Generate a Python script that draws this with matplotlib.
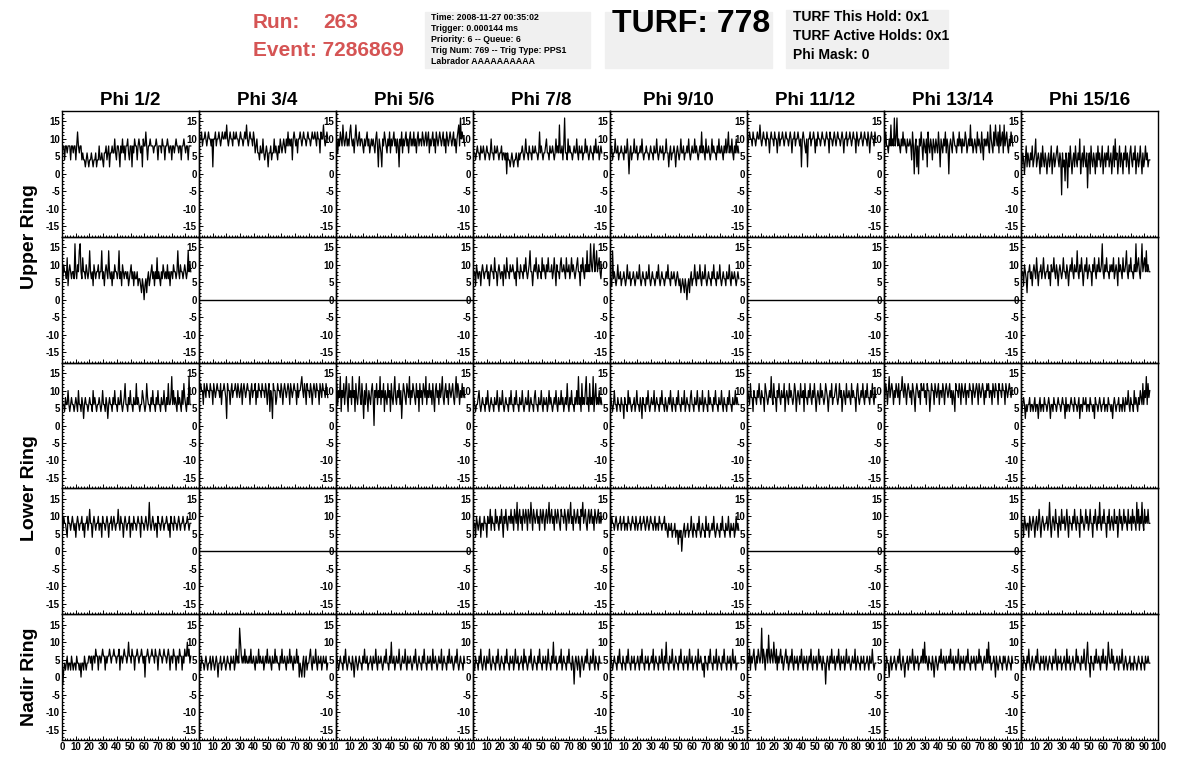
import numpy as np
import matplotlib
matplotlib.use("Agg")
import matplotlib.pyplot as plt
from matplotlib.ticker import MultipleLocator
from matplotlib.transforms import Bbox, TransformedBbox
from matplotlib.patches import Rectangle

plt.rcParams["font.family"] = ["Liberation Sans", "DejaVu Sans"]
plt.rcParams["font.weight"] = "bold"
plt.rcParams["axes.unicode_minus"] = False

# ---- event header ----
run_number = 263
event_number = 7286869
turf_number = 778
info_lines = [
    "Time: 2008-11-27 00:35:02",
    "Trigger: 0.000144 ms",
    "Priority: 6 -- Queue: 6",
    "Trig Num: 769 -- Trig Type: PPS1",
    "Labrador AAAAAAAAAA",
]
turf_lines = ["TURF This Hold: 0x1", "TURF Active Holds: 0x1", "Phi Mask: 0"]

phi_labels = ["Phi 1/2", "Phi 3/4", "Phi 5/6", "Phi 7/8",
              "Phi 9/10", "Phi 11/12", "Phi 13/14", "Phi 15/16"]
ring_labels = ["Upper Ring", "Lower Ring", "Nadir Ring"]

T_END = 94.0  # time of last sample (ns)

# ---- waveforms (mV, read off the display); None = dead channel ----
# upper ring, first antenna row
u1_1 = [6,8,8,4,8,8,6,8,8,8,4,8,8,6,8, 8,4,8,12,8,6,8,8,4,6,4,4,2,4,6,
        4,2,4,4,6,4,2,4,4,6,2,4,4,8,4, 4,6,4,2,6,6,8,4,6,8,2,6,6,8,6,
        6,10,6,4,8,8,6,2,8,6,10,6,8,4,8, 8,10,6,4,8,8,2,8,6,10,8,8,4,8,10,
        8,6,8,2,10,8,8,12,8,4,8,8,10,8,8, 8,6,8,8,10,8,4,8,8,8,6,10,8,8,4,
        8,8,10,8,6,8,8,4,8,8,6,8,10,8,8, 6,8,8,4,8,8,10,8,6,8,8,4,8,8,8]
u1_2 = [8,10,10,12,8,10,10,12,10,8,10,12,10,10,8, 10,2,10,10,12,8,10,10,12,10,8,10,12,10,10,
        12,10,14,10,8,10,12,10,10,8,12,10,10,12,10, 10,8,10,12,10,10,8,10,12,10,14,10,8,10,12,
        10,10,8,12,10,6,8,10,6,6,4,8,6,6,10, 6,4,6,8,6,2,6,6,8,4,6,6,10,6,8,
        6,4,8,6,10,8,6,8,10,8,6,10,8,12,8, 10,8,10,4,10,12,10,8,10,6,10,10,12,10,8,
        10,12,10,10,8,10,12,10,10,8,10,12,10,10,12, 10,8,12,10,10,6,12,10,10,14,10,8,10,12,10]
u1_3 = [8,10,6,10,8,12,10,8,14,10,8,10,12,8,10, 8,12,14,10,8,10,6,10,14,10,8,10,12,8,10,
        10,8,6,10,8,10,12,8,10,6,8,10,8,10,8, 6,10,12,8,2,10,8,6,2,10,8,12,10,8,6,
        10,8,12,6,10,8,10,12,8,10,6,10,8,2,10, 8,12,6,10,8,10,12,8,10,6,10,12,8,10,8,
        12,8,10,6,10,12,8,10,10,8,12,10,8,10,12, 8,10,12,6,10,8,10,12,8,10,6,12,10,8,10,
        12,10,8,10,12,8,10,6,12,10,8,10,12,10,8, 10,12,8,10,6,10,12,14,8,16,10,12,10,10,8]
u1_4 = [8,6,6,4,6,8,6,6,4,8,6,6,8,6,4, 6,8,6,6,4,6,10,6,6,4,8,6,6,8,6,
        4,6,6,8,4,6,6,4,6,0,6,4,4,2,4, 6,4,2,4,4,6,4,2,6,4,6,6,8,6,4,
        6,10,6,6,4,8,6,6,4,8,6,6,8,6,6, 4,6,12,6,8,6,4,6,6,8,10,6,6,4,8,
        6,6,8,6,4,6,10,6,8,6,14,6,6,8,4, 8,16,6,6,4,10,6,8,6,6,4,6,8,6,6,
        10,6,4,8,6,6,8,4,6,6,10,6,8,6,4, 6,8,6,6,4,8,6,10,6,6,8,4,6,8,6]
u1_5 = [6,6,8,4,6,6,10,6,6,8,4,6,6,8,6, 6,4,8,6,6,10,6,0,6,8,4,6,6,10,6,
        6,8,4,6,6,8,6,10,6,4,6,6,8,6,6, 4,6,8,6,6,4,8,6,6,10,6,4,6,8,6,
        6,8,4,6,6,10,6,6,2,6,8,4,6,6,8, 6,2,6,8,6,4,6,10,6,6,8,4,6,6,8,
        6,10,6,4,6,8,6,6,10,6,8,6,4,6,8, 6,12,6,8,6,4,10,6,6,8,6,4,6,10,6,
        8,6,6,4,8,6,10,6,6,8,6,4,8,6,10, 6,8,12,6,8,6,10,6,4,8,6,10,6,8,6]
u1_6 = [10,8,10,12,10,10,8,12,10,10,8,10,12,10,10, 14,10,8,10,12,10,10,8,12,10,10,6,10,12,10,
        10,8,12,10,10,6,10,12,8,10,10,12,10,8,10, 12,10,10,8,10,12,10,6,10,10,12,8,10,10,12,
        10,8,10,2,10,12,10,8,6,10,2,10,10,12,8, 10,10,12,10,6,10,8,12,10,10,8,10,12,10,10,
        8,10,12,10,10,6,12,10,10,8,10,12,10,8,10, 12,10,10,8,10,12,10,6,10,10,12,8,10,10,12,
        10,8,10,12,10,10,6,12,10,8,10,10,12,10,8, 10,12,10,10,8,12,10,6,10,12,10,10,8,12,10]
u1_7 = [10,8,12,8,8,6,10,8,14,8,10,8,16,8,10, 16,8,10,8,6,10,8,12,8,10,8,6,10,8,8,
        10,8,4,12,8,0,8,10,2,8,0,10,8,12,8, 4,10,8,6,10,2,12,8,6,10,8,4,10,8,6,
        10,8,6,12,8,2,10,8,6,10,8,12,6,10,8, 0,8,10,8,6,12,10,8,8,6,10,8,12,8,10,
        6,10,8,8,12,10,6,8,10,8,14,8,10,6,8, 10,8,6,12,8,10,8,6,12,8,4,10,8,10,8,
        12,8,6,14,10,8,6,12,8,14,10,8,12,6,14, 8,10,12,6,14,8,10,12,8,6,10,8,12,10,8]
u1_8 = [4,2,6,4,0,4,8,2,6,4,2,6,4,8,2, 4,6,10,2,4,6,4,0,6,2,8,4,2,6,4,
        0,4,6,2,4,8,0,4,6,2,4,6,8,4,2, 6,4,-6,6,2,4,-2,6,4,-4,6,2,8,4,0,
        4,6,2,8,4,2,6,4,10,0,4,6,2,8,4, 2,6,-4,4,6,0,8,4,2,6,4,0,6,2,8,
        4,6,2,4,8,0,4,6,2,6,4,8,2,4,6, 0,4,8,2,10,4,6,0,4,8,2,6,4,0,6,
        4,8,2,6,4,0,6,8,4,2,6,4,8,0,4, 6,2,4,8,4,0,6,2,4,8,4,6,2,4,4]

# upper ring, second antenna row
u2_1 = [8,6,10,8,8,6,12,4,8,10,8,6,8,8,6, 16,8,6,10,8,14,16,8,6,12,8,8,6,10,8,
        6,8,14,8,6,8,4,10,8,6,8,8,10,6,8, 8,14,6,8,4,8,10,8,6,14,8,6,8,4,8,
        6,10,8,8,6,8,14,6,8,4,10,8,6,8,8, 6,8,4,6,8,10,6,8,4,8,6,6,8,4,6,
        6,4,2,6,4,0,4,6,2,6,8,4,6,8,10, 6,8,4,8,6,12,6,8,6,4,8,6,10,8,6,
        8,6,10,6,8,4,8,8,6,10,8,8,6,8,14, 8,6,10,8,8,6,8,10,8,6,8,14,8,10,8]
u2_4 = [6,8,8,4,10,8,6,8,8,4,8,10,8,6,8, 8,10,6,8,4,8,10,8,8,6,12,8,8,4,8,
        10,8,6,8,8,4,10,8,6,12,8,8,6,10,8, 8,10,8,6,8,4,12,8,8,6,10,8,8,6,10,
        8,12,8,6,8,10,14,8,8,4,8,10,8,12,8, 6,10,8,8,6,12,8,10,8,6,10,8,12,8,8,
        8,10,6,8,12,8,4,10,8,8,6,10,12,8,8, 10,8,6,12,8,8,10,6,8,12,8,10,8,6,8,
        10,12,8,8,4,10,8,12,8,6,10,8,14,8,10, 8,16,10,8,12,16,8,10,14,8,10,12,8,6,10]
u2_5 = [6,6,4,14,6,8,6,4,6,10,6,6,8,4,6, 6,8,6,4,6,10,6,6,8,4,6,6,8,6,4,
        6,8,6,6,10,6,4,6,8,6,6,4,8,6,6, 10,6,4,6,8,6,6,4,6,8,6,10,6,4,6,
        8,6,6,4,6,8,6,10,6,6,4,8,6,6,8, 6,4,6,8,6,4,6,2,4,6,4,2,6,4,0,
        4,6,2,6,8,4,6,6,10,6,4,8,6,6,10, 6,4,8,6,6,10,6,4,6,8,6,6,4,8,6,
        10,6,6,4,8,6,6,10,6,4,6,8,6,6,4, 8,6,6,10,6,4,8,6,6,8,6,4,6,8,6]
u2_8 = [6,8,8,4,10,8,6,2,8,8,10,6,8,4,8, 10,8,6,12,8,4,8,8,10,6,8,12,8,6,8,
        8,10,6,8,4,10,8,8,12,8,6,10,8,4,8, 10,8,6,8,12,8,8,6,10,8,4,8,10,8,12,
        8,6,10,8,8,14,8,6,10,8,12,8,4,8,10, 8,12,6,8,10,8,8,4,10,8,12,8,6,10,8,
        12,8,8,10,16,8,6,10,8,12,8,8,6,10,8, 10,8,12,6,8,10,8,4,12,8,10,8,6,12,8,
        8,10,14,8,6,10,8,12,8,8,6,10,8,16,8, 10,12,8,6,10,16,8,10,12,8,14,8,10,8,8]

# lower ring, first antenna row
l1_1 = [8,6,6,4,8,6,6,10,6,4,6,8,6,6,4, 6,8,6,4,10,6,6,4,8,6,2,6,8,6,6,
        4,6,8,6,6,4,10,6,8,6,4,6,6,8,6, 4,6,10,6,6,4,8,6,2,6,8,6,6,4,8,
        6,10,6,6,4,8,6,6,10,6,4,6,8,12,6, 6,4,8,6,10,6,6,4,8,6,6,12,6,8,6,
        4,6,6,10,8,6,4,6,12,8,6,6,4,8,6, 10,6,6,4,8,6,10,6,6,4,8,6,6,10,6,
        4,8,6,12,6,6,8,14,6,10,6,8,6,4,10, 6,8,6,4,10,6,12,8,6,4,8,6,14,6,6]
l1_2 = [8,10,12,10,10,6,12,10,8,12,10,10,8,12,10, 10,6,12,10,8,10,12,10,10,8,12,6,10,10,12,
        10,8,2,12,10,10,6,10,12,8,10,10,12,10,8, 12,10,8,10,12,6,10,12,10,8,10,12,10,10,6,
        10,12,8,10,10,12,6,10,8,12,10,10,8,12,10, 10,8,12,10,6,10,12,4,10,8,2,12,10,10,6,
        8,12,10,10,8,12,10,6,10,12,10,8,10,12,10, 6,12,10,8,10,12,10,10,6,12,8,10,10,12,14,
        10,8,12,10,6,12,10,10,8,12,10,6,10,12,10, 8,12,10,10,6,12,10,8,12,10,10,8,12,10,8]
l1_3 = [8,12,6,10,8,14,4,10,8,12,6,10,14,8,4, 12,8,10,6,14,8,10,4,12,8,6,10,14,8,6,
        12,8,2,10,6,12,8,4,10,8,6,10,12,8,0, 10,8,12,6,10,8,14,6,10,8,12,4,10,8,6,
        12,8,10,4,12,8,6,10,14,8,6,10,8,12,6, 10,2,8,12,10,8,6,12,10,8,14,6,10,8,12,
        10,8,6,12,8,10,4,12,8,10,6,12,10,8,14, 6,10,8,12,8,10,6,12,8,4,10,12,8,10,6,
        12,8,10,14,8,6,10,12,8,10,6,12,10,8,10, 12,8,6,10,14,8,12,10,6,10,8,12,8,10,8]
l1_4 = [6,8,6,4,6,6,8,10,6,4,6,8,6,6,4, 8,6,10,6,4,6,8,6,6,4,8,6,6,10,6,
        4,8,6,6,10,6,4,6,8,6,6,4,8,6,10, 6,6,4,8,6,10,6,6,4,8,6,6,10,6,4,
        6,8,6,6,10,4,6,8,6,6,4,8,10,6,6, 4,8,6,6,10,6,4,8,6,6,8,4,6,10,6,
        8,6,4,6,8,6,10,6,4,8,6,6,10,6,8, 4,6,8,6,12,6,4,8,6,10,6,6,4,8,6,
        10,6,14,6,8,4,12,6,8,6,10,14,6,8,4, 12,6,8,6,14,4,8,12,6,8,6,10,6,8,6]
l1_5 = [6,8,6,4,6,10,6,6,4,8,6,6,4,8,6, 6,2,8,6,6,4,10,6,8,6,4,6,6,8,4,
        6,10,6,6,4,8,6,2,8,6,6,4,8,6,10, 6,4,6,8,6,6,10,4,6,8,6,6,4,8,6,
        10,6,6,4,8,6,4,6,8,6,10,6,4,8,6, 6,4,8,6,10,6,6,4,8,6,6,10,4,6,8,
        6,6,4,8,10,6,6,4,8,6,6,10,6,4,8, 6,6,10,4,6,8,6,6,4,10,6,8,6,6,4,
        8,6,10,6,6,4,8,6,6,10,6,4,8,6,6, 4,8,6,10,6,6,4,8,6,6,10,6,8,6,6]
l1_6 = [8,10,8,6,12,8,8,4,10,8,8,6,10,8,12, 8,6,10,8,8,4,12,10,8,6,8,10,8,14,8,
        6,12,8,8,4,10,8,12,8,6,10,8,8,12,4, 8,10,8,6,12,8,10,8,6,8,12,10,4,8,10,
        8,6,12,8,8,10,4,12,8,8,6,10,8,12,8, 6,10,8,12,8,4,8,10,8,6,12,8,10,8,6,
        8,12,10,8,4,8,10,8,12,6,8,8,10,12,8, 6,8,12,8,10,4,8,10,8,6,12,8,8,10,8,
        6,12,8,10,8,8,4,10,12,8,6,8,10,8,12, 8,6,10,8,12,8,8,6,10,8,12,8,6,10,8]
l1_7 = [10,8,12,10,6,10,14,8,10,12,10,6,10,8,12, 10,8,12,6,10,10,14,10,8,12,10,6,10,12,10,
        8,10,6,12,10,8,4,10,12,10,8,10,6,12,10, 10,12,8,10,6,12,10,10,4,8,12,10,10,6,12,
        10,8,10,12,6,10,10,8,12,10,6,10,12,10,8, 10,12,8,10,6,10,8,4,12,10,10,8,12,10,6,
        12,10,8,10,12,6,10,10,8,12,10,10,6,12,10, 8,10,12,10,6,12,10,8,10,12,10,6,10,8,12,
        10,12,8,10,10,6,12,10,8,12,10,10,6,12,10, 10,8,12,10,10,6,12,10,8,10,12,10,8,10,10]
l1_8 = [6,4,6,8,6,2,6,4,6,6,8,4,6,6,4, 6,8,4,6,6,2,6,8,4,6,6,4,8,6,6,
        4,6,8,6,2,6,6,4,8,6,6,4,6,8,6, 6,4,6,8,6,6,2,8,4,6,6,4,6,8,6,
        6,4,8,6,6,4,6,8,2,6,6,4,8,6,6, 8,4,6,6,4,8,6,6,4,6,2,8,6,6,4,
        6,8,6,4,6,6,8,4,6,6,4,8,6,6,4, 6,2,6,8,6,4,6,6,8,4,6,6,4,8,6,
        4,8,6,6,10,6,4,8,6,6,4,10,6,8,6, 4,8,6,10,8,6,12,6,10,8,14,6,12,8,10]

# lower ring, second antenna row
l2_1 = [8,6,10,8,8,6,4,10,8,8,6,8,10,8,6, 8,4,8,10,8,6,8,8,10,6,8,4,8,8,10,
        6,8,12,8,8,4,8,10,8,6,8,8,10,6,8, 8,4,10,8,8,6,8,10,8,4,8,8,10,6,8,
        10,8,6,8,8,12,8,6,10,8,8,4,8,10,8, 6,8,8,10,4,8,8,6,10,8,8,6,8,10,8,
        8,4,10,8,8,6,8,10,8,6,8,14,8,6,8, 10,8,6,8,8,4,10,8,8,6,8,10,8,6,8,
        8,10,8,6,8,4,10,8,8,6,10,8,8,6,8, 10,8,6,8,8,10,8,6,8,8,10,8,6,8,8]
l2_4 = [6,8,8,4,10,8,6,8,10,4,8,8,6,10,8, 8,4,10,8,8,12,6,10,8,8,6,12,8,10,8,
        6,10,8,12,8,4,10,8,12,8,6,10,10,8,12, 8,10,6,12,10,8,14,6,10,12,8,10,6,12,10,
        8,12,10,6,12,10,8,14,10,6,12,10,8,10,12, 8,10,6,12,10,8,12,10,6,10,12,8,10,14,8,
        10,12,8,10,6,12,10,8,12,10,8,6,12,10,10, 8,12,10,6,10,12,8,10,14,8,10,6,12,10,8,
        10,12,8,10,6,12,10,14,8,10,12,8,6,10,12, 8,10,12,8,10,6,12,10,8,10,12,8,10,8,10]
l2_5 = [8,6,10,8,8,6,8,10,8,6,8,8,10,6,8, 8,10,6,8,8,6,10,8,8,6,8,10,8,8,6,
        10,8,6,8,8,10,6,8,8,10,8,6,8,10,8, 6,8,10,8,8,6,8,10,6,8,8,6,10,8,8,
        6,8,8,10,6,8,6,4,8,6,6,8,4,6,6, 8,4,6,6,2,6,4,6,0,4,6,8,4,6,6,
        8,4,6,6,10,6,4,8,6,6,4,8,6,10,6, 4,6,8,6,6,4,10,6,6,8,4,6,6,8,6,
        10,6,4,6,8,6,6,4,8,6,10,6,6,4,8, 6,6,10,6,4,8,6,6,8,4,6,10,6,8,6]
l2_8 = [6,8,8,4,10,8,6,8,8,4,10,8,6,8,10, 8,4,8,10,6,8,12,8,4,8,10,8,6,8,8,
        10,6,8,14,8,4,8,10,8,6,12,8,8,4,10, 8,6,12,8,8,10,6,8,12,8,4,10,8,8,6,
        10,8,12,8,6,10,8,8,4,12,8,10,8,6,8, 12,8,10,6,8,12,8,8,4,10,8,12,8,6,10,
        8,14,8,6,10,8,12,8,8,4,10,8,12,6,8, 10,8,6,12,8,8,10,4,8,12,8,10,6,8,12,
        8,10,8,6,12,8,8,10,6,12,8,10,8,6,14, 8,12,6,10,8,14,8,6,12,8,10,8,12,8,8]

# nadir ring
n_1 = [0,-2,2,4,2,4,6,2,4,4,2,6,4,2,4, 4,2,6,4,4,2,4,0,4,4,2,6,4,2,4,
       4,6,6,4,6,2,6,6,4,8,6,6,2,6,6, 4,6,8,6,6,2,6,4,6,6,8,6,4,6,6,
       8,6,6,4,6,6,8,2,6,6,4,6,8,6,6, 4,6,10,6,6,4,8,6,6,2,6,6,8,6,4,
       6,6,8,6,4,6,0,6,6,8,6,4,6,6,8, 6,6,4,8,6,6,2,6,8,6,6,4,6,8,6,
       6,4,6,8,6,2,6,6,4,8,6,6,2,6,6, 4,8,6,6,2,6,4,8,6,6,10,6,8,4,6]
n_2 = [4,4,2,6,4,4,2,4,6,4,2,4,4,6,2, 4,6,4,2,4,6,4,0,4,4,6,2,4,4,6,
       4,2,4,6,4,4,2,6,4,4,6,2,4,8,4, 6,4,14,10,6,4,6,4,8,4,6,4,4,6,4,
       8,4,4,6,4,2,6,4,4,8,4,6,4,4,6, 2,4,6,4,8,4,4,6,4,2,6,4,4,8,4,
       6,4,4,2,6,4,8,4,4,6,4,2,6,4,4, 8,4,6,4,2,6,4,4,8,4,6,0,4,2,0,
       4,6,0,4,6,2,4,4,6,8,4,2,6,4,4, 8,4,2,6,4,4,6,2,4,6,4,4,6,2,4]
n_3 = [4,6,4,2,4,6,4,4,2,6,4,8,4,2,4, 6,4,4,2,6,4,0,4,6,4,2,4,6,4,4,
       2,6,4,8,4,4,6,2,4,4,6,4,2,6,4, 4,8,4,2,6,4,4,6,4,2,4,6,4,8,4,
       4,2,6,4,10,4,4,6,2,4,6,4,4,8,4, 2,4,6,4,4,8,4,2,6,4,4,6,4,2,4,
       6,4,8,4,2,4,6,4,4,2,6,4,8,4,4, 2,6,4,4,6,4,2,8,4,4,6,4,2,4,6,
       4,4,8,2,4,6,4,4,2,6,4,8,4,4,6, 4,2,4,6,4,8,4,2,4,6,4,4,2,6,4]
n_4 = [4,4,2,6,4,4,2,6,4,8,4,2,4,6,4, 2,6,4,4,8,4,2,4,6,4,4,2,6,4,8,
       4,2,4,6,4,4,2,6,4,8,4,4,2,6,4, 4,6,2,4,8,4,4,6,2,4,4,6,4,2,8,
       4,6,4,2,4,6,4,8,4,2,4,6,4,4,2, 6,4,8,4,4,2,6,4,4,6,2,4,8,4,4,
       2,6,4,10,4,4,6,2,4,4,6,4,8,2,4, 6,4,4,2,6,4,8,4,4,2,6,4,-2,4,6,
       4,2,6,4,0,4,6,4,2,4,6,4,8,4,4, 2,6,4,4,8,4,2,6,4,4,2,6,4,4,4]
n_5 = [4,6,4,2,4,6,4,4,2,6,4,8,4,4,2, 6,4,4,2,6,4,8,4,4,2,6,4,4,6,2,
       4,4,6,4,2,6,4,8,4,4,2,6,4,4,6, 2,4,4,6,4,8,2,4,6,4,4,2,6,4,4,
       8,4,2,6,4,10,4,4,2,6,4,4,8,4,2, 4,6,4,4,2,6,4,8,4,4,2,6,4,4,6,
       2,4,8,4,4,6,2,4,4,6,4,2,8,4,4, 6,4,2,4,0,6,4,4,2,6,4,8,4,4,2,
       6,4,4,8,2,4,6,4,4,2,6,4,8,4,4, 2,6,4,4,6,2,4,8,4,4,6,2,4,4,4]
n_6 = [4,6,4,8,2,6,4,6,8,4,2,6,4,8,6, 4,6,14,4,8,6,2,6,8,4,12,6,4,8,6,
       4,10,6,4,8,2,6,4,6,8,4,6,2,4,6, 8,4,6,2,4,6,4,8,4,2,6,4,4,6,2,
       4,6,4,8,4,2,6,4,4,6,2,4,6,4,8, 4,2,6,4,4,6,2,4,8,4,6,4,2,6,4,
       4,-2,4,6,4,2,6,4,8,4,4,6,2,4,6, 4,8,4,2,6,4,4,6,2,4,8,4,4,6,4,
       2,4,6,4,4,8,2,4,6,4,4,2,6,4,4, 6,2,4,4,6,4,2,6,4,4,8,4,2,4,4]
n_7 = [4,4,2,6,4,4,0,4,6,2,4,4,6,4,2, 4,6,4,8,4,2,4,6,4,0,4,4,6,2,4,
       6,4,4,8,4,2,6,4,4,6,2,4,4,6,4, 8,4,10,4,6,4,2,6,4,4,2,6,4,0,4,
       6,4,2,4,6,4,8,4,4,6,4,2,6,4,4, 6,4,8,4,4,6,2,4,6,4,4,8,4,2,6,
       4,4,6,2,4,6,4,8,4,4,2,6,4,4,6, 4,2,6,4,4,8,4,6,4,2,4,6,4,4,8,
       4,10,4,6,2,4,4,6,4,0,6,4,2,4,6, 4,4,2,6,4,6,4,2,4,6,4,4,2,6,4]
n_8 = [4,4,2,6,4,4,2,6,4,8,4,2,4,6,4, 2,4,6,4,8,4,4,2,6,4,4,6,2,4,6,
       4,2,4,6,4,4,2,6,4,4,8,4,2,6,4, 4,6,2,4,4,6,4,2,8,4,4,6,2,4,4,
       6,4,2,4,8,4,6,4,4,2,6,4,4,8,4, 2,6,10,4,4,0,6,4,4,2,6,4,8,4,4,
       6,4,2,6,4,8,4,4,6,2,4,10,6,4,4, 8,4,6,2,4,4,6,4,2,6,4,4,8,4,2,
       4,6,4,2,4,4,6,2,4,4,2,6,4,4,2, 4,6,4,4,2,6,4,4,2,6,4,4,6,4,4]

waveforms = [
    [u1_1, u1_2, u1_3, u1_4, u1_5, u1_6, u1_7, u1_8],
    [u2_1, None, None, u2_4, u2_5, None, None, u2_8],
    [l1_1, l1_2, l1_3, l1_4, l1_5, l1_6, l1_7, l1_8],
    [l2_1, None, None, l2_4, l2_5, None, None, l2_8],
    [n_1, n_2, n_3, n_4, n_5, n_6, n_7, n_8],
]

# ---- layout (pixels) ----
W_PX, H_PX = 1196, 772
GRID_LEFT, GRID_RIGHT = 62, 1158
GRID_TOP, GRID_BOTTOM = 111, 740
n_rows, n_cols = len(waveforms), len(phi_labels)
col_w = (GRID_RIGHT - GRID_LEFT) / n_cols
row_h = (GRID_BOTTOM - GRID_TOP) / n_rows

fig = plt.figure(figsize=(W_PX / 100, H_PX / 100), dpi=100)


def fx(px):
    return px / W_PX


def fy(py):
    return 1 - py / H_PX


for r in range(n_rows):
    for c in range(n_cols):
        left = GRID_LEFT + c * col_w
        top = GRID_TOP + r * row_h
        ax = fig.add_axes([fx(left), fy(top + row_h), col_w / W_PX, row_h / H_PX])
        ax.patch.set_alpha(0)
        vals = waveforms[r][c]
        if vals is None:
            ax.axhline(0, color="black", lw=1.0)
        else:
            t = np.linspace(0, T_END, len(vals))
            ax.plot(t, vals, color="black", lw=0.9)
        ax.set_xlim(0, 100)
        ax.set_ylim(-18, 18)
        ax.xaxis.set_major_locator(MultipleLocator(10))
        ax.xaxis.set_minor_locator(MultipleLocator(2))
        ax.yaxis.set_major_locator(MultipleLocator(5))
        ax.yaxis.set_minor_locator(MultipleLocator(1))
        ax.tick_params(which="both", direction="in", width=0.7, pad=1.5)
        ax.tick_params(which="major", length=2.6)
        ax.tick_params(which="minor", length=1.3)
        ax.tick_params(axis="y", labelsize=7)
        ax.tick_params(axis="x", labelsize=7)
        for s in ax.spines.values():
            s.set_linewidth(1.0)
        if r == n_rows - 1:
            ticks = np.arange(0, 101, 10)
            ax.set_xticks(ticks)
            labels = [str(v) for v in ticks]
            if c > 0:
                labels[0] = ""
            ax.set_xticklabels(labels)
            if c < n_cols - 1:
                clip = TransformedBbox(
                    Bbox.from_extents(-1, -1, 1 + 2 / col_w, 2), ax.transAxes)
                for tk in ax.xaxis.get_major_ticks():
                    tk.label1.set_clip_on(True)
                    tk.label1.set_clip_box(clip)
        else:
            ax.set_xticklabels([])
        if r == 0:
            ax.set_title(phi_labels[c], fontsize=13.5, fontweight="bold", pad=4)

# ring labels (upper / lower span two rows each, nadir one)
ring_centres = [GRID_TOP + row_h, GRID_TOP + 3 * row_h, GRID_TOP + 4.5 * row_h]
for lbl, yc in zip(ring_labels, ring_centres):
    fig.text(fx(29), fy(yc), lbl, rotation=90, ha="center", va="center",
             fontsize=14, fontweight="bold")

# ---- header ----
red = "#d55454"
fig.text(fx(253), fy(22), "Run:", color=red, fontsize=15, va="center")
fig.text(fx(323), fy(22), str(run_number), color=red, fontsize=15, va="center")
fig.text(fx(253), fy(50), f"Event: {event_number}", color=red, fontsize=15,
         va="center")

box_color = "#f0f0f0"
for x0, y0, x1, y1 in [(425, 12, 590, 68), (605, 12, 772, 68), (786, 10, 948, 68)]:
    fig.patches.append(Rectangle((fx(x0), fy(y1)), (x1 - x0) / W_PX, (y1 - y0) / H_PX,
                                 transform=fig.transFigure, color=box_color, zorder=0))

for i, line in enumerate(info_lines):
    fig.text(fx(431), fy(17 + i * 11.2), line, fontsize=6.3, va="center")

fig.text(fx(612), fy(24), f"TURF: {turf_number}", fontsize=23, va="center")

for i, line in enumerate(turf_lines):
    fig.text(fx(793), fy(17 + i * 19), line, fontsize=10, va="center")

fig.savefig("out.png", dpi=100)
